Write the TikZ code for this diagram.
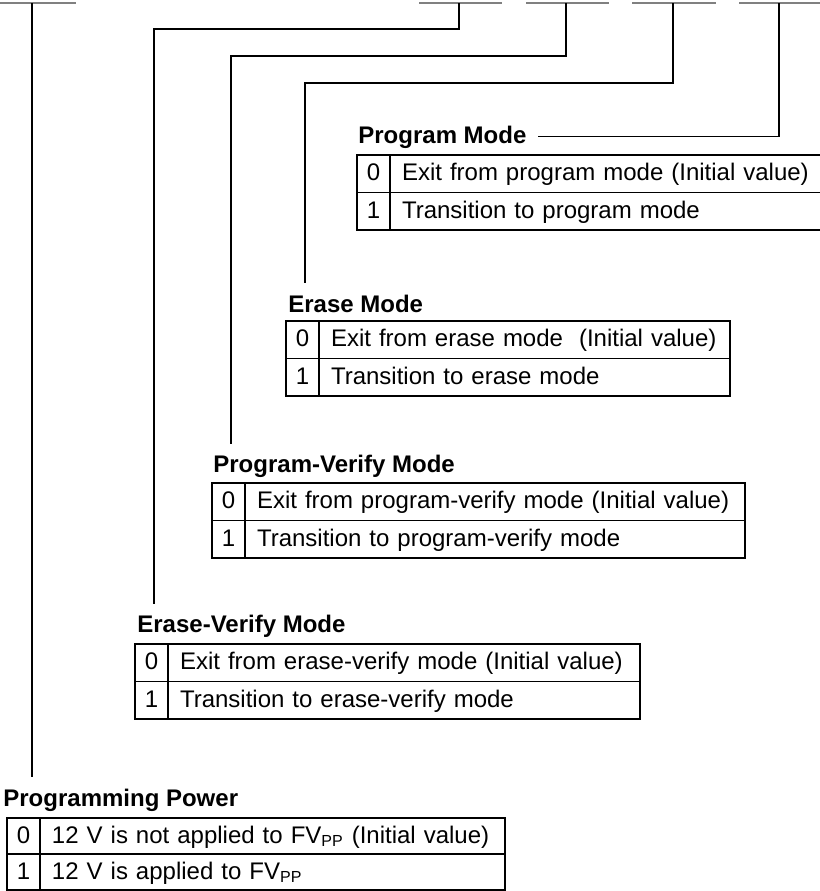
\documentclass[tikz,border=0pt]{standalone}
\usepackage{fontspec}
\setmainfont{Liberation Sans}
\usetikzlibrary{positioning}

\begin{document}
\begin{tikzpicture}[
  x=0.5pt, y=-0.5pt,
  font=\fontsize{12}{14}\selectfont,
  bus/.style={draw=black!50, line width=1pt},
  wire/.style={draw=black, line width=0.6pt},
  lbl/.style={font=\fontsize{12}{14}\selectfont\bfseries,
    inner sep=0pt, anchor=base west},
  bit/.style={draw, line width=0.6pt, outer sep=0pt, inner sep=0pt,
    minimum width=16.5pt, minimum height=18.75pt,
    text height=0.716em, text depth=0pt, anchor=north west},
  desc/.style={draw, line width=0.6pt, outer sep=0pt, inner xsep=6pt,
    inner ysep=0pt, minimum height=18.75pt, text width=#1, align=left,
    text height=0.716em, text depth=0pt},
]
  \useasboundingbox (0,0) rectangle (820,891);

  % Register bits along the top
  \draw[bus] (0,3) -- (76,3) (419,3) -- (502,3) (526,3) -- (609,3)
    (632,3) -- (716,3) (739,3) -- (820,3);
  \coordinate (t7) at (32,3);
  \coordinate (t6) at (459,3);
  \coordinate (t5) at (566,3);
  \coordinate (t4) at (673,3);
  \coordinate (t3) at (779,3);
  \coordinate (k6) at (154,29);
  \coordinate (k5) at (231,56);
  \coordinate (k4) at (305,83);

  % Program Mode
  \node[lbl] (pmlbl) at (358,143) {Program Mode};
  \node[bit] (pm0) at (357,155) {0};
  \node[desc=208pt, right=0pt of pm0] (pm0t)
    {Exit from program mode (Initial value)};
  \node[bit, below=0pt of pm0] (pm1) {1};
  \node[desc=208pt, right=0pt of pm1] (pm1t) {Transition to program mode};

  % Erase Mode
  \node[lbl] (emlbl) at (288,312) {Erase Mode};
  \node[bit] (em0) at (286,321) {0};
  \node[desc=193.5pt, right=0pt of em0] (em0t)
    {Exit from erase mode~ (Initial value)};
  \node[bit, below=0pt of em0] (em1) {1};
  \node[desc=193.5pt, right=0pt of em1] (em1t) {Transition to erase mode};

  % Program-Verify Mode
  \node[lbl] (pvlbl) at (213,472) {Program-Verify Mode};
  \node[bit] (pv0) at (212,483) {0};
  \node[desc=238pt, right=0pt of pv0] (pv0t)
    {Exit from program-verify mode (Initial value)};
  \node[bit, below=0pt of pv0] (pv1) {1};
  \node[desc=238pt, right=0pt of pv1] (pv1t)
    {Transition to program-verify mode};

  % Erase-Verify Mode
  \node[lbl] (evlbl) at (137,632) {Erase-Verify Mode};
  \node[bit] (ev0) at (135,644) {0};
  \node[desc=224pt, right=0pt of ev0] (ev0t)
    {Exit from erase-verify mode (Initial value)};
  \node[bit, below=0pt of ev0] (ev1) {1};
  \node[desc=224pt, right=0pt of ev1] (ev1t)
    {Transition to erase-verify mode};

  % Programming Power
  \node[lbl] (pplbl) at (3,806) {Programming Power};
  \node[bit, minimum height=18pt] (pp0) at (7,818) {0};
  \node[desc=220.5pt, minimum height=18pt, right=0pt of pp0] (pp0t)
    {12 V is not applied to FV\textsubscript{PP} (Initial value)};
  \node[bit, minimum height=18pt, below=0pt of pp0] (pp1) {1};
  \node[desc=220.5pt, minimum height=18pt, right=0pt of pp1] (pp1t)
    {12 V is applied to FV\textsubscript{PP}};

  % Bit lines down to the labels
  \draw[wire] (t3) |- ([xshift=5.5pt]pmlbl.east);
  \draw[wire] (t4) |- (k4) -- ([yshift=5.5pt]emlbl.north -| k4);
  \draw[wire] (t5) |- (k5) -- ([yshift=5pt]pvlbl.north -| k5);
  \draw[wire] (t6) |- (k6) -- ([yshift=5pt]evlbl.north -| k6);
  \draw[wire] (t7) -- ([yshift=5.5pt]pplbl.north -| t7);
\end{tikzpicture}
\end{document}
